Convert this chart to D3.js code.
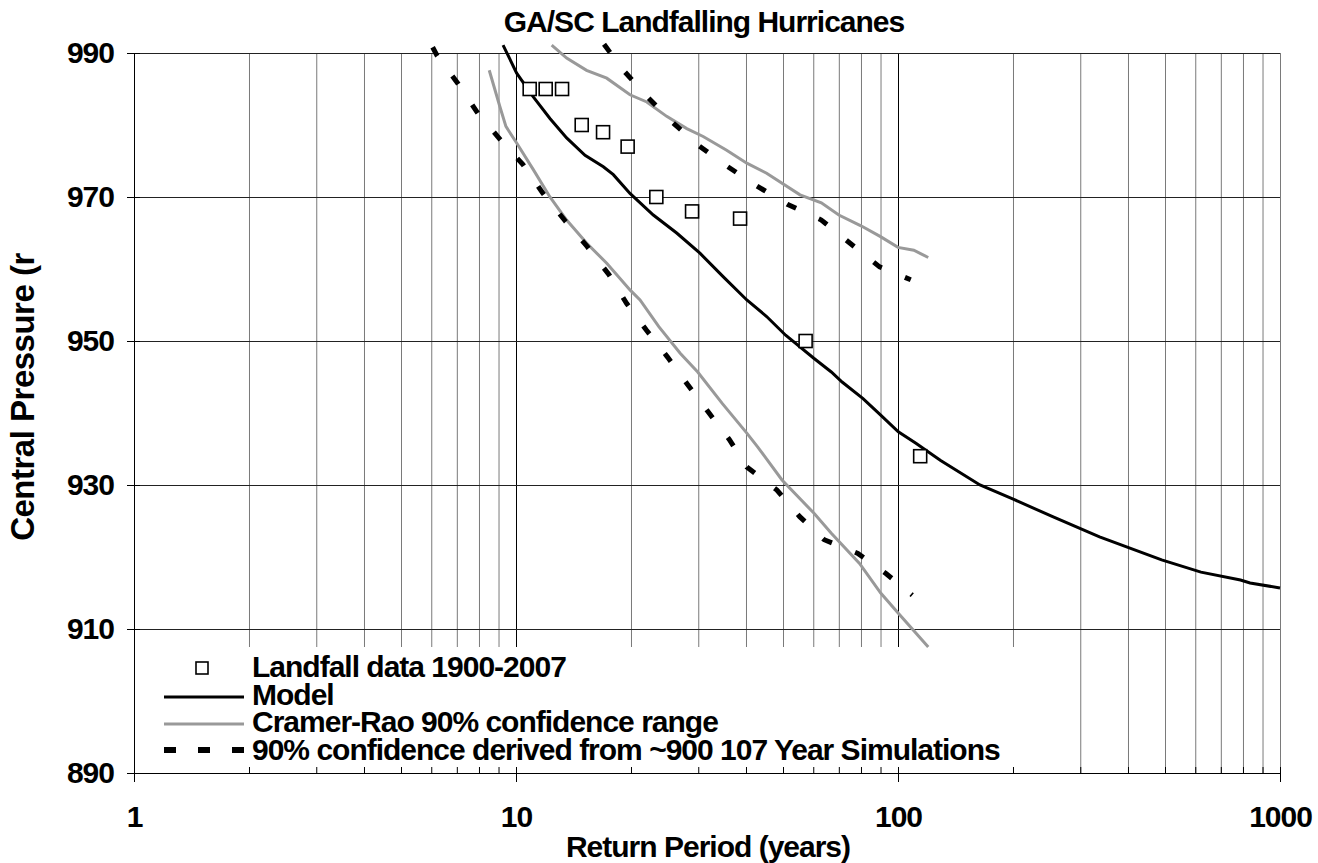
<!DOCTYPE html>
<html><head><meta charset="utf-8">
<script src="https://cdn.jsdelivr.net/npm/d3@7"></script>
<style>
body{margin:0;background:#fff;}
text{font-family:"Liberation Sans",Arial,sans-serif;font-weight:bold;fill:#000;}
</style></head>
<body><svg id="c" width="1318" height="863"></svg>
<script>
const titleText = "GA/SC Landfalling Hurricanes";
const xTitle = "Return Period (years)";
const yTitle = "Central Pressure (r";
const xMajorTicks = [1, 10, 100, 1000];
const yTicks = [890, 910, 930, 950, 970, 990];

const obsT = [10.86, 11.96, 13.2, 14.86, 16.9, 19.6, 23.3, 28.9, 38.6, 57.3, 114.3];
const obsP = [985, 985, 985, 980, 979, 977, 970, 968, 967, 950, 934];

const modelT = [9.25,10.04,11.1,12.27,13.57,15.16,16.93,17.98,19.88,22.88,26.34,30.3,34.9,40.2,45.3,50.8,60.2,66.9,71.4,81.0,90.1,100.2,111.4,129.3,163.9,201,254,337,490,621,788,835,1000];
const modelP = [991.1,987.2,983.9,980.9,978.2,975.8,974.2,973.1,970.5,967.5,965.0,962.2,958.9,955.7,953.4,950.8,947.6,945.7,944.3,942.0,939.7,937.4,935.8,933.4,930.0,928.0,925.6,922.8,919.6,917.9,916.8,916.4,915.7];

const crLowT = [8.51,9.08,9.41,10.04,11.1,12.27,13.57,15.3,17.28,19.88,21.12,23.65,26.9,29.9,34.7,40.2,42.9,49.7,60.2,66.9,79.3,90.1,100.2,120];
const crLowP = [987.6,982.5,979.8,977.5,973.8,970.0,966.8,963.6,960.8,957.1,955.7,952.0,948.3,945.7,941.3,937.2,935.3,930.7,926.1,923.3,919.1,915.0,912.2,907.5];

const crHighT = [12.4,13.57,15.3,17.28,19.88,22.0,24.8,28.0,30.9,35.6,40.2,45.3,55.4,63,70,80,90,100,110,120];
const crHighP = [991.1,989.3,987.6,986.5,984.2,983.2,981.2,979.5,978.4,976.5,974.7,973.3,970.3,969.2,967.5,966,964.5,963,962.6,961.6];

const simLowT = [6.05,6.22,7.06,7.95,9.12,10.43,11.77,13.44,15.37,17.52,19.49,21.96,24.9,28.0,31.8,36.2,40.2,48.2,55.3,64.1,78.5,93.0,109];
const simLowP = [990.8,989.6,985.7,981.6,977.9,974.5,970.5,966.7,963.1,959.2,955.2,951.5,947.8,944.1,940.2,936.3,932.5,929.3,925.6,922.4,920.5,917.7,914.7];

const simHighT = [17.0,19.1,21.9,25.4,29.8,35.4,42.2,51.3,63,75.2,89.5,108];
const simHighP = [991.2,987.6,984.1,980.6,977.3,974.4,971.7,969.0,966.8,963.5,960.3,958.5];

const legendLabels = ["Landfall data 1900-2007","Model","Cramer-Rao 90% confidence range","90% confidence derived from ~900 107 Year Simulations"];

const L = 134, R = 1280, T = 53, B = 773;
const svg = d3.select("#c");
const x = d3.scaleLog().domain([1,1000]).range([L,R]);
const y = d3.scaleLinear().domain([890,990]).range([B,T]);

const allX = [];
[1,10,100].forEach(d => { for (let k=1;k<10;k++) allX.push(d*k); });
allX.push(1000);
const minorX = allX.filter(v => !xMajorTicks.includes(v));

const styleText = s => s.attr("font-size",30).style("font-family","Liberation Sans, Arial").style("font-weight","bold").style("letter-spacing","-1px").attr("fill","#000");

// grid
const g = svg.append("g");
g.append("g").attr("transform",`translate(0,${B})`)
  .call(d3.axisBottom(x).tickValues(minorX.concat([1000])).tickSize(-(B-T)).tickFormat(""))
  .call(s=>{s.select(".domain").remove(); s.selectAll("line").attr("stroke","#7a7a7a");});
g.append("g").attr("transform",`translate(0,${B})`)
  .call(d3.axisBottom(x).tickValues([10,100]).tickSize(-(B-T)).tickFormat(""))
  .call(s=>{s.select(".domain").remove(); s.selectAll("line").attr("stroke","#000");});
g.append("g").attr("transform",`translate(${L},0)`)
  .call(d3.axisLeft(y).tickValues(yTicks).tickSize(-(R-L)).tickFormat(""))
  .call(s=>{s.select(".domain").remove(); s.selectAll("line").attr("stroke","#222");});

// legend background
svg.append("rect").attr("x",L+1).attr("y",647).attr("width",1040-L).attr("height",B-647).attr("fill","#fff");

// axes
const xa = svg.append("g").attr("transform",`translate(0,${B})`)
  .call(d3.axisBottom(x).tickValues(allX).tickSize(-6).tickSizeOuter(0).tickFormat(""));
xa.selectAll("line").attr("stroke","#000");
xa.select(".domain").attr("stroke","#000");
const xb = svg.append("g").attr("transform",`translate(0,${B})`)
  .call(d3.axisBottom(x).tickValues(xMajorTicks).tickSize(9).tickPadding(24).tickFormat(d3.format("d")));
xb.select(".domain").remove();
xb.selectAll("line").attr("stroke","#000");
xb.selectAll("text").call(styleText);

const ya = svg.append("g").attr("transform",`translate(${L},0)`)
  .call(d3.axisLeft(y).tickValues(yTicks).tickSize(7).tickSizeOuter(0).tickPadding(13).tickFormat(d3.format("d")));
ya.select(".domain").attr("stroke","#000");
ya.selectAll("line").attr("stroke","#000").attr("x2",-7);
ya.selectAll(".tick").append("line").attr("x1",0).attr("x2",6).attr("stroke","#000");
ya.selectAll("text").call(styleText);

// series
const line = d3.line().x(d=>x(d[0])).y(d=>y(d[1]));
const zip = (a,b) => a.map((v,i)=>[v,b[i]]);
svg.append("path").datum(zip(crLowT,crLowP)).attr("d",line).attr("fill","none").attr("stroke","#999").attr("stroke-width",3);
svg.append("path").datum(zip(crHighT,crHighP)).attr("d",line).attr("fill","none").attr("stroke","#999").attr("stroke-width",3);
svg.append("path").datum(zip(simLowT,simLowP)).attr("d",line).attr("fill","none").attr("stroke","#000").attr("stroke-width",5).attr("stroke-dasharray","10,25");
svg.append("path").datum(zip(simHighT,simHighP)).attr("d",line).attr("fill","none").attr("stroke","#000").attr("stroke-width",5).attr("stroke-dasharray","10,25");
svg.append("path").datum(zip(modelT,modelP)).attr("d",line).attr("fill","none").attr("stroke","#000").attr("stroke-width",3);
svg.selectAll("rect.obs").data(zip(obsT,obsP)).join("rect").attr("class","obs")
  .attr("x",d=>x(d[0])-6.5).attr("y",d=>y(d[1])-6.5).attr("width",13).attr("height",13)
  .attr("fill","#fff").attr("stroke","#000").attr("stroke-width",1.6);

// legend
const lg = svg.append("g");
const base = [677,705,732,760];
lg.selectAll("text").data(legendLabels).join("text")
  .attr("x",252).attr("y",(d,i)=>base[i]).text(d=>d).call(styleText);
lg.append("rect").attr("x",196).attr("y",base[0]-15).attr("width",12).attr("height",12).attr("fill","#fff").attr("stroke","#000").attr("stroke-width",1.6);
lg.append("line").attr("x1",164).attr("x2",244).attr("y1",base[1]-8).attr("y2",base[1]-8).attr("stroke","#000").attr("stroke-width",3);
lg.append("line").attr("x1",164).attr("x2",244).attr("y1",base[2]-8).attr("y2",base[2]-8).attr("stroke","#999").attr("stroke-width",3);
lg.append("line").attr("x1",164).attr("x2",244).attr("y1",base[3]-10).attr("y2",base[3]-10).attr("stroke","#000").attr("stroke-width",6).attr("stroke-dasharray","12,22");

// titles
svg.append("text").attr("x",704).attr("y",32).attr("text-anchor","middle").text(titleText).call(styleText);
svg.append("text").attr("x",708).attr("y",857).attr("text-anchor","middle").text(xTitle).call(styleText);
svg.append("text").attr("transform","translate(34,397) rotate(-90)").attr("text-anchor","middle").text(yTitle).call(styleText).attr("font-size",33).style("letter-spacing","-0.5px");
</script></body></html>
